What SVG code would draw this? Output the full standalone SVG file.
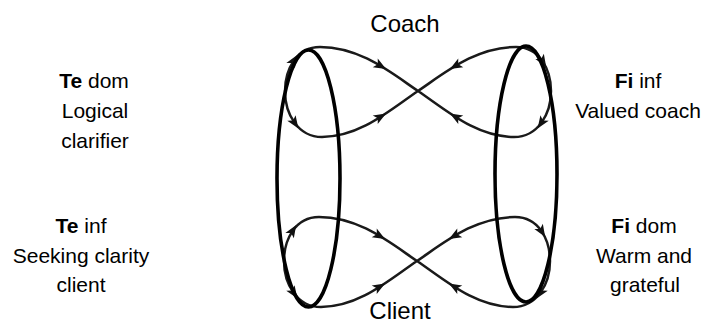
<svg xmlns="http://www.w3.org/2000/svg" xmlns:xlink="http://www.w3.org/1999/xlink" width="711" height="325" viewBox="0 0 711 325">
<style>
.lbl{font-family:"Liberation Sans",Arial,sans-serif;font-size:21px;fill:#000;text-anchor:middle}
.big{font-family:"Liberation Sans",Arial,sans-serif;font-size:24px;fill:#000;text-anchor:middle}
.b{font-weight:bold}
.curve{fill:none;stroke:#1a1a1a;stroke-width:2.5}
.ell{fill:none;stroke:#000;stroke-width:3.6}
.ah{fill:#111}
</style>
<defs>
<path id="ah" d="M7,0 L-5.5,-5 L-2.5,0 L-5.5,5 Z"/>
</defs>
<rect width="711" height="325" fill="#fff"/>
<g id="connectors">
<g id="loop-coach">
<path class="curve" d="M418,91 C390,72 360,47 320,47 C296,47 285,70 285,91 C285,114 298,137 322,137 C360,137 390,110 418,91 C446,72 476,47 516,47 C540,47 551,70 551,91 C551,114 538,137 514,137 C476,137 446,110 418,91 Z"/>
<use xlink:href="#ah" class="ah" transform="translate(380,65.6) rotate(30)"/>
<use xlink:href="#ah" class="ah" transform="translate(380,117) rotate(-30)"/>
<use xlink:href="#ah" class="ah" transform="translate(456,65.6) rotate(150)"/>
<use xlink:href="#ah" class="ah" transform="translate(456,117) rotate(210)"/>
<use xlink:href="#ah" class="ah" transform="translate(293.5,61) rotate(-58)"/>
<use xlink:href="#ah" class="ah" transform="translate(294.5,122.6) rotate(56)"/>
<use xlink:href="#ah" class="ah" transform="translate(542.5,61) rotate(58)"/>
<use xlink:href="#ah" class="ah" transform="translate(541.5,122.6) rotate(124)"/>
</g>
<g id="loop-client" transform="translate(-1,170)">
<path class="curve" d="M418,91 C390,72 360,47 320,47 C296,47 285,70 285,91 C285,114 298,137 322,137 C360,137 390,110 418,91 C446,72 476,47 516,47 C540,47 551,70 551,91 C551,114 538,137 514,137 C476,137 446,110 418,91 Z"/>
<use xlink:href="#ah" class="ah" transform="translate(380,65.6) rotate(30)"/>
<use xlink:href="#ah" class="ah" transform="translate(380,117) rotate(-30)"/>
<use xlink:href="#ah" class="ah" transform="translate(456,65.6) rotate(150)"/>
<use xlink:href="#ah" class="ah" transform="translate(456,117) rotate(210)"/>
<use xlink:href="#ah" class="ah" transform="translate(293.5,61) rotate(-58)"/>
<use xlink:href="#ah" class="ah" transform="translate(294.5,122.6) rotate(56)"/>
<use xlink:href="#ah" class="ah" transform="translate(542.5,61) rotate(58)"/>
<use xlink:href="#ah" class="ah" transform="translate(541.5,122.6) rotate(124)"/>
</g>
</g>
<g id="ellipse-left"><ellipse class="ell" cx="308.5" cy="178.5" rx="31.5" ry="128.5"/></g>
<g id="ellipse-right"><ellipse class="ell" cx="526" cy="174" rx="31" ry="128"/></g>
<g id="node-coach"><text class="big" x="405" y="32">Coach</text></g>
<g id="node-client"><text class="big" x="400" y="319">Client</text></g>
<g id="node-te-dom">
<text class="lbl" x="94" y="88"><tspan class="b">Te</tspan> dom</text>
<text class="lbl" x="95" y="118">Logical</text>
<text class="lbl" x="95" y="148">clarifier</text>
</g>
<g id="node-te-inf">
<text class="lbl" x="81" y="233"><tspan class="b">Te</tspan> inf</text>
<text class="lbl" x="81" y="263">Seeking clarity</text>
<text class="lbl" x="81" y="292">client</text>
</g>
<g id="node-fi-inf">
<text class="lbl" x="638" y="88"><tspan class="b">Fi</tspan> inf</text>
<text class="lbl" x="638" y="118">Valued coach</text>
</g>
<g id="node-fi-dom">
<text class="lbl" x="644" y="233"><tspan class="b">Fi</tspan> dom</text>
<text class="lbl" x="644" y="263">Warm and</text>
<text class="lbl" x="645" y="292">grateful</text>
</g>
</svg>
